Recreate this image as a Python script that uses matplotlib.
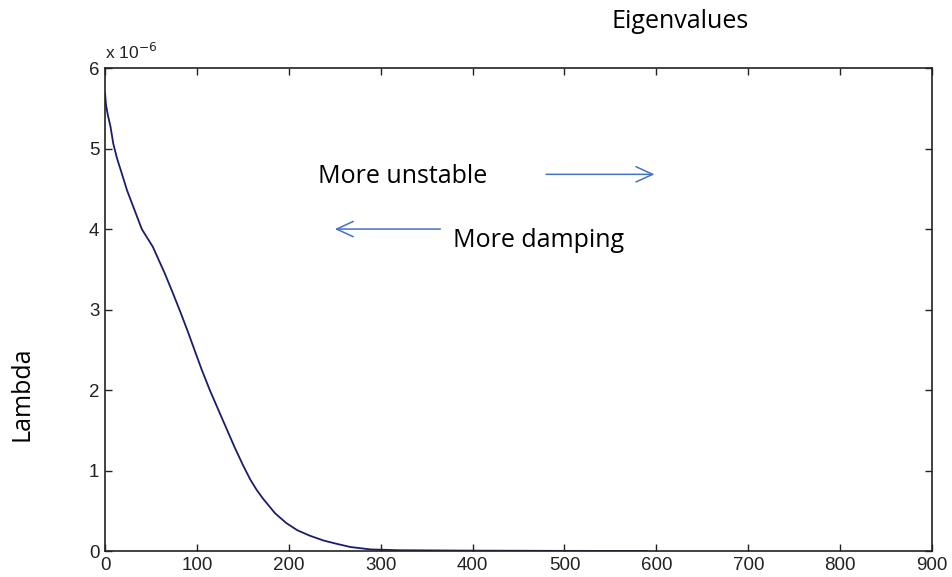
import matplotlib.pyplot as plt

# eigenvalue curve, lambda in units of 1e-6
xs = [0, 1, 3, 6, 9, 13, 18, 24, 31, 40, 52, 65, 74, 82, 90, 97, 105,
      114, 125, 141, 150, 158, 165, 172, 185, 197, 209, 223, 238, 252, 267,
      289, 320, 400, 500, 590]
lam = [5.69, 5.55, 5.42, 5.27, 5.06, 4.88, 4.7, 4.48, 4.27, 4.0, 3.78, 3.45,
       3.2, 2.97, 2.73, 2.51, 2.26, 2.0, 1.71, 1.29, 1.07, 0.89, 0.76, 0.65,
       0.47, 0.35, 0.26, 0.19, 0.13, 0.09, 0.05, 0.02, 0.01, 0.005, 0.002,
       0.001]

x_ticks = [0, 100, 200, 300, 400, 500, 600, 700, 800, 900]
y_ticks = [0, 1, 2, 3, 4, 5, 6]

fig = plt.figure(figsize=(9.53, 5.77), dpi=100)
ax = fig.add_axes([0.1102, 0.045, 0.8678, 0.837])

ax.plot(xs, lam, color="#1c1c6e", lw=1.3)
ax.set_xlim(0, 900)
ax.set_ylim(0, 6)
ax.set_xticks(x_ticks)
ax.set_yticks(y_ticks)
ax.tick_params(direction="in", length=5, width=1, top=True, right=True,
               labelsize=13.5, colors="#222222", pad=4)
for lbl in ax.get_xticklabels() + ax.get_yticklabels():
    lbl.set_family("Liberation Sans")
for sp in ax.spines.values():
    sp.set_linewidth(1.2)
    sp.set_color("#222222")

ax.text(0.0, 1.012, "x 10$^{-6}$", transform=ax.transAxes, fontsize=12.5,
        family="Liberation Sans", color="#222222", va="bottom", ha="left")

txt = dict(family="Open Sans", fontsize=18, color="black")
fig.text(0.642, 0.9515, "Eigenvalues", ha="left", va="baseline", **txt)
fig.text(0.023, 0.317, "Lambda", rotation=90, ha="center", va="center", **txt)

ax.text(232, 4.57, "More unstable", ha="left", va="baseline", **txt)
ax.text(379, 3.78, "More damping", ha="left", va="baseline", **txt)

arrow = dict(arrowstyle="->,head_length=1.2,head_width=0.55", color="#4472c4", lw=1.1)
ax.annotate("", xy=(601, 4.68), xytext=(477, 4.68), arrowprops=arrow)
ax.annotate("", xy=(247, 4.0), xytext=(368, 4.0), arrowprops=arrow)

fig.savefig("out.png", dpi=100)
